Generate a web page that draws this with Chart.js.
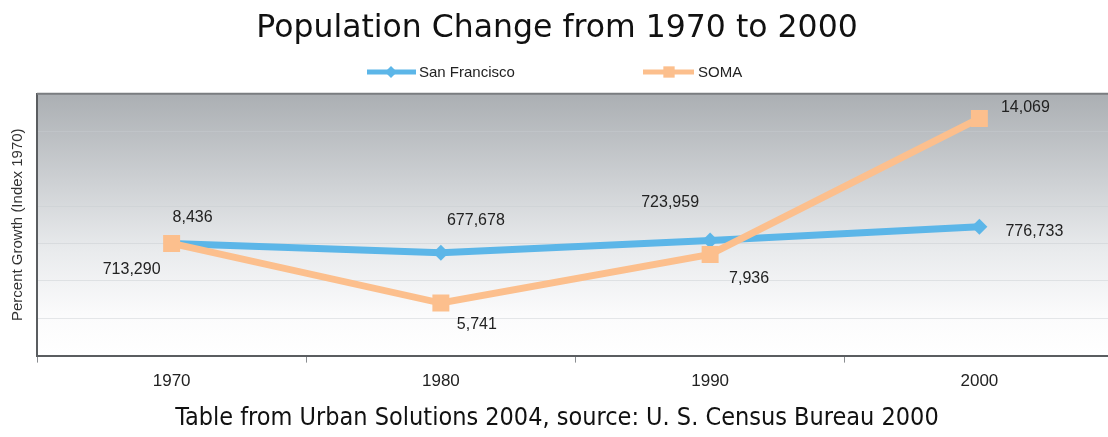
<!DOCTYPE html>
<html>
<head>
<meta charset="utf-8">
<script src="https://cdn.jsdelivr.net/npm/chart.js@4/dist/chart.umd.min.js"></script>
<style>
  html, body { margin: 0; padding: 0; background: #fff; overflow: hidden; }
  #wrap { width: 1114px; height: 437px; }
</style>
</head>
<body>
<div id="wrap"><canvas id="chart" width="1114" height="437"></canvas></div>
<script>
// values (index, 1970 = 100)
const years = ["1970", "1980", "1990", "2000"];
const sfIndex = [100, 95.0, 101.5, 108.9];
const somaIndex = [100, 68.1, 94.1, 166.8];
// population counts printed next to the points
const sfLabels = ["713,290", "677,678", "723,959", "776,733"];
const somaLabels = ["8,436", "5,741", "7,936", "14,069"];

const BLUE = "#5cb6e8";
const ORANGE = "#fcbf8d";

// where each value label sits relative to its point
const sfLabelOffset = [[-40, 26], [35, -32], [-40, -38], [55, 5]];
const somaLabelOffset = [[21, -26], [36, 22], [39, 24], [46, -11]];

const plotBackground = {
  id: "plotBackground",
  beforeDraw(chart) {
    const { ctx, chartArea: a } = chart;
    const g = ctx.createLinearGradient(0, a.top, 0, a.bottom);
    g.addColorStop(0, "#abafb3");
    g.addColorStop(0.35, "#cfd2d5");
    g.addColorStop(0.6, "#e9ebed");
    g.addColorStop(0.85, "#fbfbfc");
    g.addColorStop(1, "#ffffff");
    ctx.save();
    ctx.fillStyle = g;
    ctx.fillRect(a.left, a.top, a.right - a.left, a.bottom - a.top);
    ctx.restore();
  },
  afterDatasetsDraw(chart) {
    const { ctx, chartArea: a } = chart;
    ctx.save();
    ctx.strokeStyle = "#7a7d80";
    ctx.lineWidth = 2;
    ctx.beginPath();
    ctx.moveTo(a.left, a.top);
    ctx.lineTo(a.right, a.top);
    ctx.stroke();
    ctx.restore();
  }
};

const valueLabels = {
  id: "valueLabels",
  afterDatasetsDraw(chart) {
    const { ctx } = chart;
    ctx.save();
    ctx.font = "16px 'Liberation Sans', Arial, sans-serif";
    ctx.fillStyle = "#222";
    ctx.textAlign = "center";
    ctx.textBaseline = "middle";
    chart.data.datasets.forEach((ds, i) => {
      const meta = chart.getDatasetMeta(i);
      meta.data.forEach((pt, j) => {
        const [dx, dy] = ds.labelOffset[j];
        ctx.fillText(ds.valueLabels[j], pt.x + dx, pt.y + dy);
      });
    });
    ctx.restore();
  }
};

// legend with a line segment and the point marker, like the original
const lineLegend = {
  id: "lineLegend",
  afterDraw(chart) {
    const { ctx } = chart;
    const items = [
      { ds: chart.data.datasets[0], x0: 367, x1: 416, mx: 391, tx: 419 },
      { ds: chart.data.datasets[1], x0: 643, x1: 694, mx: 669, tx: 698 }
    ];
    const y = 72;
    ctx.save();
    items.forEach((it) => {
      ctx.strokeStyle = it.ds.borderColor;
      ctx.lineWidth = 5;
      ctx.beginPath();
      ctx.moveTo(it.x0, y);
      ctx.lineTo(it.x1, y);
      ctx.stroke();
      ctx.fillStyle = it.ds.borderColor;
      Chart.helpers.drawPoint(ctx, {
        pointStyle: it.ds.pointStyle,
        radius: it.ds.pointStyle === "rect" ? 8 : 6,
        borderWidth: 0
      }, it.mx, y);
      ctx.fillStyle = "#222";
      ctx.font = "15px 'Liberation Sans', Arial, sans-serif";
      ctx.textBaseline = "middle";
      ctx.textAlign = "left";
      ctx.fillText(it.ds.label, it.tx, y + 1);
    });
    ctx.restore();
  }
};

new Chart(document.getElementById("chart").getContext("2d"), {
  type: "line",
  data: {
    labels: years,
    datasets: [
      {
        label: "San Francisco",
        data: sfIndex,
        valueLabels: sfLabels,
        labelOffset: sfLabelOffset,
        borderColor: BLUE,
        backgroundColor: BLUE,
        borderWidth: 7,
        pointStyle: "rectRot",
        pointRadius: 8,
        pointBorderWidth: 0,
        tension: 0,
        order: 1
      },
      {
        label: "SOMA",
        data: somaIndex,
        valueLabels: somaLabels,
        labelOffset: somaLabelOffset,
        borderColor: ORANGE,
        backgroundColor: ORANGE,
        borderWidth: 7,
        pointStyle: "rect",
        pointRadius: 12,
        pointBorderWidth: 0,
        tension: 0,
        order: 0
      }
    ]
  },
  options: {
    responsive: false,
    animation: false,
    layout: { padding: 0, autoPadding: false },
    plugins: {
      legend: { display: false },
      tooltip: { enabled: false },
      title: {
        display: true,
        text: "Population Change from 1970 to 2000",
        color: "#111",
        font: { family: "'DejaVu Sans', sans-serif", size: 31.5, weight: "normal" },
        padding: { top: 10, bottom: 46 }
      },
      subtitle: {
        display: true,
        position: "bottom",
        text: "Table from Urban Solutions 2004, source: U. S. Census Bureau 2000",
        color: "#111",
        font: { family: "'DejaVu Sans Condensed', 'DejaVu Sans', sans-serif", size: 25, weight: "normal" },
        padding: { top: 2, bottom: 4 }
      }
    },
    scales: {
      x: {
        offset: true,
        grid: {
          offset: true,
          drawOnChartArea: false,
          drawTicks: true,
          tickLength: 7,
          color: "#8a8d90"
        },
        border: { color: "#5a5d60", width: 2 },
        ticks: {
          color: "#222",
          padding: 9,
          font: { family: "'Liberation Sans', Arial, sans-serif", size: 17 }
        }
      },
      y: {
        min: 40,
        max: 180,
        afterFit(scale) { scale.width = 37; },
        ticks: { display: false, stepSize: 20 },
        grid: { color: "rgba(200,204,208,0.45)", drawTicks: false },
        border: { color: "#5a5d60", width: 2 },
        title: {
          display: true,
          text: "Percent Growth (Index 1970)",
          color: "#333",
          padding: { top: 9, bottom: 0 },
          font: { family: "'Liberation Sans', Arial, sans-serif", size: 15 }
        }
      }
    }
  },
  plugins: [plotBackground, valueLabels, lineLegend]
});
</script>
</body>
</html>
